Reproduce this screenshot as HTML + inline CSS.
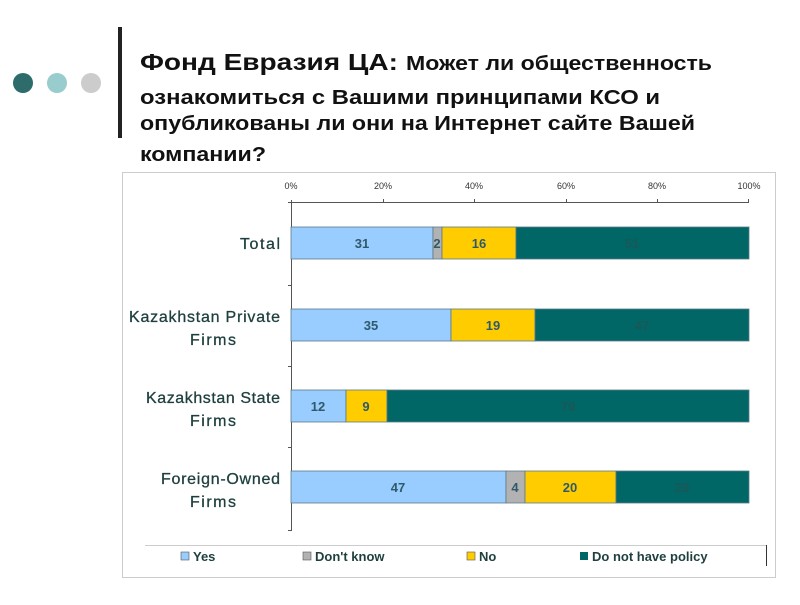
<!DOCTYPE html>
<html><head><meta charset="utf-8"><style>
body{margin:0;background:#fff;width:800px;height:600px;overflow:hidden;font-family:"Liberation Sans",sans-serif}
</style></head><body>
<svg width="800" height="600" xmlns="http://www.w3.org/2000/svg" font-family="Liberation Sans, sans-serif">
<circle cx="23" cy="83" r="10" fill="#2e6b6b"/>
<circle cx="57" cy="83" r="10" fill="#99cccc"/>
<circle cx="91" cy="83" r="10" fill="#cccccc"/>
<rect x="118" y="27" width="4" height="111" fill="#222"/>
<g font-weight="bold" fill="#111">
<text x="140" y="70" font-size="23" textLength="258" lengthAdjust="spacingAndGlyphs">Фонд Евразия ЦА:</text>
<text x="406" y="70" font-size="20" textLength="306" lengthAdjust="spacingAndGlyphs">Может ли общественность</text>
<text x="140" y="104" font-size="20" textLength="520" lengthAdjust="spacingAndGlyphs">ознакомиться с Вашими принципами КСО и</text>
<text x="140" y="130" font-size="20" textLength="555" lengthAdjust="spacingAndGlyphs">опубликованы ли они на Интернет сайте Вашей</text>
<text x="140" y="161" font-size="20" textLength="126" lengthAdjust="spacingAndGlyphs">компании?</text>
</g>
<rect x="122.5" y="172.5" width="653" height="405" fill="none" stroke="#ccc"/>
<g font-size="9" fill="#333" text-anchor="middle">
<text x="291" y="189">0%</text><text x="383" y="189">20%</text><text x="474" y="189">40%</text><text x="566" y="189">60%</text><text x="657" y="189">80%</text><text x="749" y="189">100%</text>
</g>
<g stroke="#555" stroke-width="1">
<line x1="288" y1="202.5" x2="749" y2="202.5"/>
<line x1="383.5" y1="202" x2="383.5" y2="199"/><line x1="474.5" y1="202" x2="474.5" y2="199"/><line x1="566.5" y1="202" x2="566.5" y2="199"/><line x1="657.5" y1="202" x2="657.5" y2="199"/><line x1="748.5" y1="202" x2="748.5" y2="199"/>
<line x1="291.5" y1="200" x2="291.5" y2="531"/>
<line x1="288" y1="285.5" x2="291" y2="285.5"/><line x1="288" y1="366.5" x2="291" y2="366.5"/><line x1="288" y1="447.5" x2="291" y2="447.5"/><line x1="288" y1="530.5" x2="291" y2="530.5"/>
</g>
<g stroke="#5a7a8a" stroke-width="0.8">
<rect x="291" y="227" width="142" height="32" fill="#99ccff"/><rect x="433" y="227" width="9" height="32" fill="#b2b2b2"/><rect x="442" y="227" width="74" height="32" fill="#ffcc00"/><rect x="516" y="227" width="233" height="32" fill="#006666"/>
<rect x="291" y="309" width="160" height="32" fill="#99ccff"/><rect x="451" y="309" width="84" height="32" fill="#ffcc00"/><rect x="535" y="309" width="214" height="32" fill="#006666"/>
<rect x="291" y="390" width="55" height="32" fill="#99ccff"/><rect x="346" y="390" width="41" height="32" fill="#ffcc00"/><rect x="387" y="390" width="362" height="32" fill="#006666"/>
<rect x="291" y="471" width="215" height="32" fill="#99ccff"/><rect x="506" y="471" width="19" height="32" fill="#b2b2b2"/><rect x="525" y="471" width="91" height="32" fill="#ffcc00"/><rect x="616" y="471" width="133" height="32" fill="#006666"/>
</g>
<g font-size="13" font-weight="bold" fill="#2f5a6a" text-anchor="middle">
<text x="362" y="248">31</text><text x="437" y="248">2</text><text x="479" y="248">16</text><text x="632" y="248" fill="#1a5858">51</text>
<text x="371" y="330">35</text><text x="493" y="330">19</text><text x="642" y="330" fill="#1a5858">47</text>
<text x="318" y="411">12</text><text x="366" y="411">9</text><text x="568" y="411" fill="#1a5858">79</text>
<text x="398" y="492">47</text><text x="515" y="492">4</text><text x="570" y="492">20</text><text x="682" y="492" fill="#1a5858">29</text>
</g>
<g font-size="16" fill="#1f3f3f" stroke="#1f3f3f" stroke-width="0.3" lengthAdjust="spacingAndGlyphs">
<text x="240" y="249" textLength="40">Total</text>
<text x="129" y="322" textLength="151">Kazakhstan Private</text><text x="190" y="345" textLength="46">Firms</text>
<text x="146" y="403" textLength="134">Kazakhstan State</text><text x="190" y="426" textLength="46">Firms</text>
<text x="161" y="484" textLength="119">Foreign-Owned</text><text x="190" y="507" textLength="46">Firms</text>
</g>
<line x1="145" y1="545.5" x2="766" y2="545.5" stroke="#ccc"/>
<line x1="766.5" y1="545" x2="766.5" y2="566" stroke="#333"/>
<g font-size="13" font-weight="bold" fill="#1f3f3f">
<rect x="181" y="552" width="8" height="8" fill="#99ccff" stroke="#555" stroke-width="0.6"/><text x="193" y="561">Yes</text>
<rect x="303" y="552" width="8" height="8" fill="#b2b2b2" stroke="#555" stroke-width="0.6"/><text x="315" y="561">Don't know</text>
<rect x="467" y="552" width="8" height="8" fill="#ffcc00" stroke="#555" stroke-width="0.6"/><text x="479" y="561">No</text>
<rect x="580" y="552" width="8" height="8" fill="#006666"/><text x="592" y="561">Do not have policy</text>
</g>
</svg>
</body></html>
